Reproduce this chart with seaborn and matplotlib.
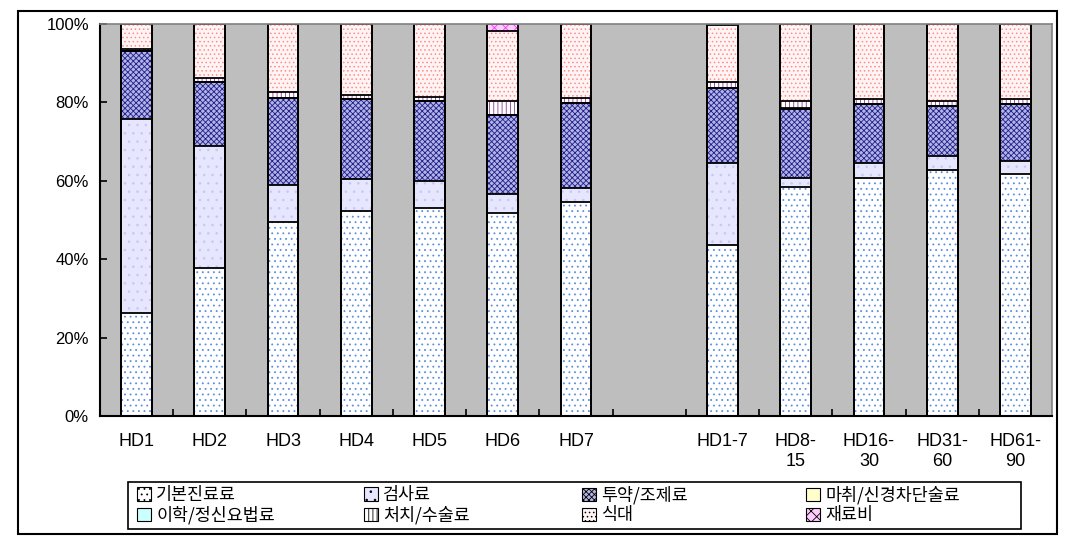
import matplotlib
matplotlib.use('Agg')
import matplotlib.pyplot as plt
import matplotlib.patches as mpatches
import numpy as np
import pandas as pd
import seaborn as sns

#%%
'''DATA'''
cats = ['HD1', 'HD2', 'HD3', 'HD4', 'HD5', 'HD6', 'HD7',
        'HD1-7', 'HD8-\n15', 'HD16-\n30', 'HD31-\n60', 'HD61-\n90']
order = cats[:7] + [' '] + cats[7:]

basic     = [26.3, 37.8, 49.5, 52.3, 53.1, 51.8, 54.5, 43.6, 58.4, 60.6, 62.7, 61.7]
exam      = [49.5, 31.1,  9.4,  8.2,  6.8,  4.8,  3.6, 21.0,  2.2,  4.0,  3.5,  3.3]
drug      = [17.4, 16.3, 22.1, 20.3, 20.5, 20.1, 21.7, 19.2, 17.6, 14.9, 12.9, 14.5]
anesth    = [ 0.0,  0.0,  0.0,  0.0,  0.0,  0.0,  0.0,  0.0,  0.0,  0.0,  0.0,  0.0]
physio    = [ 0.0,  0.0,  0.0,  0.0,  0.0,  0.0,  0.0,  0.0,  0.3,  0.0,  0.0,  0.0]
procedure = [ 0.3,  0.9,  1.6,  1.0,  1.0,  3.6,  1.2,  1.3,  1.8,  1.3,  1.2,  1.3]
meal      = [ 6.5, 13.9, 17.4, 18.2, 18.6, 17.9, 19.0, 14.6, 19.7, 19.2, 19.7, 19.2]
material  = [ 0.0,  0.0,  0.0,  0.0,  0.0,  1.8,  0.0,  0.3,  0.0,  0.0,  0.0,  0.0]

names = ['기본진료료', '검사료', '투약/조제료', '마취/신경차단술료',
         '이학/정신요법료', '처치/수술료', '식대', '재료비']
series = [basic, exam, drug, anesth, physio, procedure, meal, material]

# face colour, hatch colour, hatch
styles = [('#FFFFFF', '#5A8FE0', '...'),
          ('#E6E6FF', '#C8C8F0', '..'),
          ('#B4B4E4', '#1E1E8C', 'xxxxxx'),
          ('#FFFFCC', '#FFFFCC', ''),
          ('#CCFFFF', '#CCFFFF', ''),
          ('#FFFFFF', '#8B3A8B', '||||'),
          ('#FFF4F4', '#FF8C8C', '....'),
          ('#FFCCFF', '#FF33FF', 'xxx')]

df = pd.DataFrame({'cat': cats})
cum = np.cumsum(np.array(series), axis=0)
for i in range(len(names)):
    df['c%d' % i] = cum[i]

#%%
'''PLOT'''
plt.rcParams['hatch.linewidth'] = 0.6
fig = plt.figure(figsize=(10.71, 5.44), dpi=100)
ax = fig.add_axes([100/1071, 128/544, 952/1071, 392/544])
ax.set_facecolor('#BEBEBE')

# fills, drawn from the top layer down
for i in reversed(range(len(names))):
    face, hcol, hatch = styles[i]
    sns.barplot(data=df, x='cat', y='c%d' % i, order=order, color=face,
                saturation=1, width=0.42, hatch=hatch, edgecolor=hcol,
                linewidth=0, ax=ax)
# outlines
for i in reversed(range(len(names))):
    sns.barplot(data=df, x='cat', y='c%d' % i, order=order, color='black',
                fill=False, width=0.42, linewidth=1.3, ax=ax)

ax.set_xlim(-0.5, len(order) - 0.5)
ax.set_ylim(0, 100)
ax.set_xlabel('')
ax.set_ylabel('')
ax.set_yticks([0, 20, 40, 60, 80, 100])
ax.set_yticklabels(['0%', '20%', '40%', '60%', '80%', '100%'],
                   fontsize=12, family='Liberation Sans')
ax.tick_params(axis='y', direction='in', length=5, width=1.2, pad=8)
ax.set_xticks(range(len(order)))
ax.set_xticklabels(order, fontsize=13, family='Liberation Sans', linespacing=1.25)
ax.tick_params(axis='x', length=0, pad=12)
ax.set_xticks(np.arange(0.5, len(order) - 0.5), minor=True)
ax.tick_params(axis='x', which='minor', direction='in', length=5, width=1.2)

for s in ['left', 'bottom']:
    ax.spines[s].set_color('black')
    ax.spines[s].set_linewidth(1.5)
for s in ['top', 'right']:
    ax.spines[s].set_color('#808080')
    ax.spines[s].set_linewidth(1.2)

# legend: one small legend per column inside a common frame
handles = [mpatches.Patch(facecolor=st[0], edgecolor='black', hatch=st[2],
                          linewidth=0.8) for st in styles]
col_x = [137, 364, 582, 806]
for c in range(4):
    lg = fig.legend([handles[c], handles[c + 4]], [names[c], names[c + 4]],
                    loc='upper left', bbox_to_anchor=(col_x[c]/1071, 1 - 486/544),
                    frameon=False, borderpad=0, borderaxespad=0,
                    handlelength=0.8, handleheight=0.8, handletextpad=0.3,
                    labelspacing=0.1,
                    prop={'family': ['Noto Sans CJK KR', 'DejaVu Sans'], 'size': 12.5})
    for h in lg.legend_handles:
        h.set_edgecolor('black')
fig.patches.append(mpatches.Rectangle((128/1071, 15/544), 893/1071, 47/544,
                                      transform=fig.transFigure, fill=False,
                                      edgecolor='black', linewidth=1.2))

# outer border
fig.patches.append(mpatches.Rectangle((18/1071, 10/544), 1039/1071, 523/544,
                                      transform=fig.transFigure, fill=False,
                                      edgecolor='black', linewidth=1.5))

fig.savefig('out.png', dpi=100)
